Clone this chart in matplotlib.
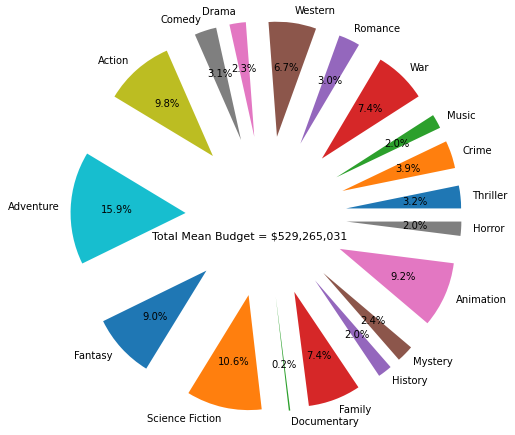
import matplotlib
matplotlib.use("Agg")
import matplotlib.pyplot as plt

genres = ["Thriller", "Crime", "Music", "War", "Romance", "Western", "Drama",
          "Comedy", "Action", "Adventure", "Fantasy", "Science Fiction",
          "Documentary", "Family", "History", "Mystery", "Animation", "Horror"]
shares = [3.2, 3.9, 2.0, 7.4, 3.0, 6.7, 2.3, 3.1, 9.8, 15.9, 9.0, 10.6,
          0.2, 7.4, 2.0, 2.4, 9.2, 2.0]
total_mean_budget = 529265031

W, H, DPI = 515, 435, 72
fig = plt.figure(figsize=(W / DPI, H / DPI), dpi=DPI)
ax = fig.add_axes([0, 0, 1, 1])

cx, cy, r = 266.0, 216.5, 115.0
ax.pie(shares, labels=genres, autopct="%1.1f%%", explode=[0.7] * len(shares),
       startangle=0, textprops={"fontsize": 10})
ax.set_xlim(-cx / r, (W - cx) / r)
ax.set_ylim(-(H - cy) / r, cy / r)
ax.set_aspect("auto")
ax.axis("off")

ax.text(-0.143, -0.182, "Total Mean Budget = ${:,}".format(total_mean_budget),
        ha="center", va="center", fontsize=11)

fig.savefig("out.png", dpi=DPI)
